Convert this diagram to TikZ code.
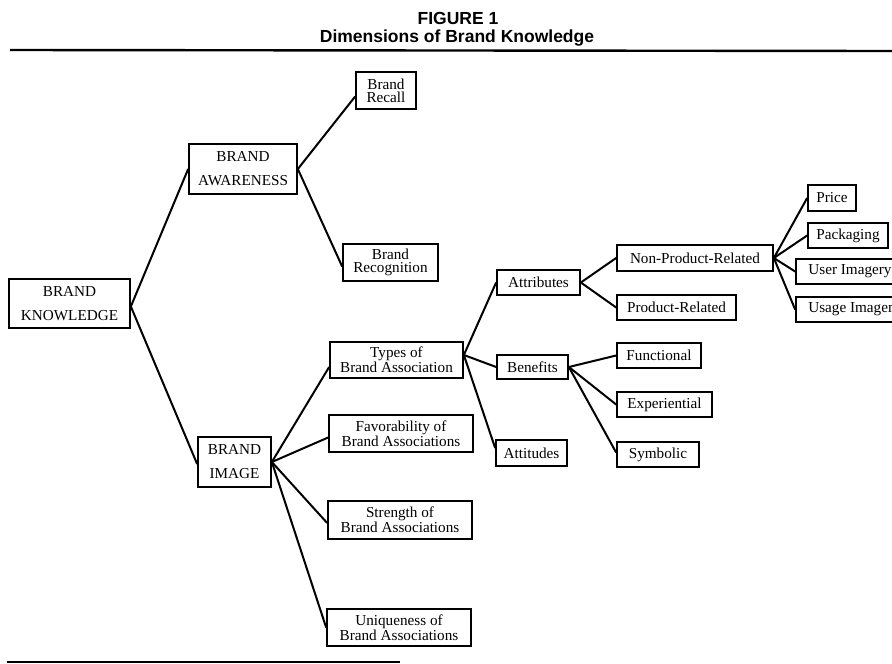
\documentclass[tikz,border=0pt]{standalone}
\usepackage{fontspec}
\setmainfont{Liberation Serif}
\newfontfamily\headfont{Liberation Sans}
\begin{document}
\begin{tikzpicture}[x=1pt,y=-1pt,
  bx/.style={draw, line width=1.7pt, inner sep=0pt, align=center},
  one/.style={bx, font=\fontsize{15.2}{15}\selectfont},
  two/.style={bx, font=\fontsize{15.2}{13.2}\selectfont},
  caps/.style={bx, font=\fontsize{15.2}{24}\selectfont},
  link/.style={line width=2pt},
  rulestyle/.style={line width=2.4pt},
  headstyle/.style={font=\headfont\bfseries\fontsize{17.5}{18}\selectfont, anchor=base, inner sep=0pt}]
\clip (0,0) rectangle (892,664);
% title
\node[headstyle] (fig) at (458,24.5) {FIGURE 1};
\node[headstyle] (dim) at (457,42) {Dimensions of Brand Knowledge};
\coordinate (rl) at (10,50);
\coordinate (rr) at (892,51);
\draw[rulestyle] (rl) -- (rr);
\coordinate (bl) at (7,662);
\coordinate (br) at (400,662);
\draw[line width=2.8pt] (bl) -- (br);
% level 1
\node[caps, minimum width=121pt, minimum height=49pt] (know) at (69.5,303.5) {BRAND\\KNOWLEDGE};
% level 2
\node[caps, minimum width=108pt, minimum height=50pt] (aware) at (243,169) {BRAND\\AWARENESS};
\node[caps, minimum width=73pt, minimum height=50pt] (image) at (234.5,462) {BRAND\\IMAGE};
% awareness children
\node[two, minimum width=60pt, minimum height=37pt] (recall) at (386,90.5) {Brand\\Recall};
\node[two, minimum width=95pt, minimum height=37pt] (recog) at (390.5,262.5) {Brand\\Recognition};
% image children
\node[two, minimum width=133pt, minimum height=36pt] (types) at (396.5,360) {Types of\\Brand Association};
\node[two, minimum width=144pt, minimum height=37pt] (fav) at (401,433.5) {Favorability of\\Brand Associations};
\node[two, minimum width=144pt, minimum height=38pt] (str) at (400,520) {Strength of\\Brand Associations};
\node[two, minimum width=144pt, minimum height=37pt] (uniq) at (399,627.5) {Uniqueness of\\Brand Associations};
% types children
\node[one, minimum width=83pt, minimum height=25pt] (attr) at (538.5,282.5) {Attributes};
\node[one, minimum width=71pt, minimum height=24pt] (bene) at (532.5,367) {Benefits};
\node[one, minimum width=71pt, minimum height=26pt] (atti) at (531.5,453) {Attitudes};
% attributes children
\node[one, minimum width=156pt, minimum height=26pt] (nonp) at (695,258) {Non-Product-Related};
\node[one, minimum width=119pt, minimum height=25pt] (prod) at (676.5,307.5) {Product-Related};
% benefits children
\node[one, minimum width=84pt, minimum height=25pt] (func) at (659,355.5) {Functional};
\node[one, minimum width=95pt, minimum height=25pt] (expe) at (664.5,404.5) {Experiential};
\node[one, minimum width=82pt, minimum height=25pt] (symb) at (658,454.5) {Symbolic};
% non-product children
\node[one, minimum width=48pt, minimum height=26pt] (price) at (832,198) {Price};
\node[one, minimum width=80pt, minimum height=25pt] (pack) at (848,235.5) {Packaging};
\node[one, minimum width=108pt, minimum height=25pt] (user) at (850,271.5) {User Imagery};
\node[one, minimum width=117pt, minimum height=25pt] (usage) at (854.5,309.5) {Usage Imagery};
% connectors
\draw[link] ([yshift=-3pt]know.east) -- (aware.west);
\draw[link] ([yshift=-3pt]know.east) -- ([yshift=-2pt]image.west);
\draw[link] (aware.east) -- ([yshift=-6pt]recall.west);
\draw[link] (aware.east) -- ([yshift=-4pt]recog.west);
\draw[link] (image.east) -- ([yshift=-7pt]types.west);
\draw[link] (image.east) -- ([yshift=-4pt]fav.west);
\draw[link] (image.east) -- ([yshift=-3pt]str.west);
\draw[link] (image.east) -- (uniq.west);
\draw[link] ([yshift=5pt]types.east) -- (attr.west);
\draw[link] ([yshift=5pt]types.east) -- (bene.west);
\draw[link] ([yshift=5pt]types.east) -- ([yshift=5pt]atti.west);
\draw[link] (attr.east) -- (nonp.west);
\draw[link] (attr.east) -- (prod.west);
\draw[link] (bene.east) -- (func.west);
\draw[link] (bene.east) -- (expe.west);
\draw[link] (bene.east) -- ([yshift=2pt]symb.west);
\draw[link] (nonp.east) -- (price.west);
\draw[link] (nonp.east) -- (pack.west);
\draw[link] (nonp.east) -- (user.west);
\draw[link] (nonp.east) -- (usage.west);
\end{tikzpicture}
\end{document}
